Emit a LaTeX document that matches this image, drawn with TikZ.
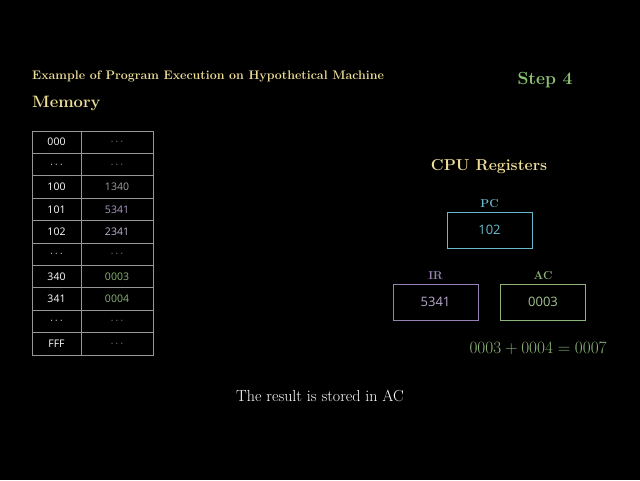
\documentclass[tikz,border=0pt]{standalone}
\usepackage{fontspec}
\setsansfont{Open Sans}
\usetikzlibrary{positioning}
\definecolor{titleyellow}{RGB}{238,222,150}
\definecolor{stepgreen}{RGB}{140,195,115}
\definecolor{pccyan}{RGB}{105,185,205}
\definecolor{irpurple}{RGB}{150,130,180}
\definecolor{acgreen}{RGB}{140,180,120}
\definecolor{cellgray}{RGB}{150,150,150}
\tikzset{
	cell/.style={draw=cellgray, line width=0.9pt, minimum height=22.4pt, inner sep=0pt, font=\sffamily\fontsize{10.5}{11}\selectfont},
	reg/.style={draw, line width=1pt, minimum width=85pt, minimum height=36pt, font=\sffamily\fontsize{13}{14}\selectfont},
	reglabel/.style={font=\bfseries\fontsize{11.5}{12}\selectfont}
}
\begin{document}
\begin{tikzpicture}[x=1pt,y=-1pt]
	\fill[black] (0,0) rectangle (640,480);
	\useasboundingbox (0,0) rectangle (640,480);
	
	\node[anchor=west, text=titleyellow, font=\bfseries\fontsize{12.4}{13}\selectfont, inner sep=0pt] (title) at (32,76) {Example of Program Execution on Hypothetical Machine};
	\node[anchor=west, text=titleyellow, font=\bfseries\fontsize{16.5}{18}\selectfont, inner sep=0pt] (memory) at (32,103) {Memory};
	\node[text=stepgreen, font=\bfseries\fontsize{17.5}{19}\selectfont] (step) at (545,80) {Step 4};
	
	% memory table
	\foreach \i/\addr/\val/\col in {0/000/$\cdots$/cellgray, 1/$\cdots$/$\cdots$/cellgray, 2/100/1340/cellgray!90, 3/101/5341/irpurple!80!white, 4/102/2341/irpurple!60!white, 5/$\cdots$/$\cdots$/cellgray, 6/340/0003/acgreen, 7/341/0004/acgreen, 8/$\cdots$/$\cdots$/cellgray, 9/FFF/$\cdots$/cellgray} {
		\node[cell, minimum width=49pt, text=white] (a\i) at (56.5,142.2+22.4*\i) {\addr};
		\node[cell, minimum width=72pt, text=\col] (v\i) at (117,142.2+22.4*\i) {\val};
	}
	
	% registers
	\node[text=titleyellow, font=\bfseries\fontsize{15.8}{17}\selectfont] (cpu) at (489,167) {CPU Registers};
	\node[reg, draw=pccyan, text=pccyan] (pc) at (489.5,230) {102};
	\node[reglabel, text=pccyan, above=0pt of pc] (pclabel) {PC};
	\node[reg, draw=irpurple, text=irpurple!70!white] (ir) at (435.5,302) {5341};
	\node[reglabel, text=irpurple, above=0pt of ir] (irlabel) {IR};
	\node[reg, draw=acgreen, text=acgreen!80!white] (ac) at (543,302) {0003};
	\node[reglabel, text=acgreen, above=0pt of ac] (aclabel) {AC};
	
	\node[text=acgreen, anchor=east, inner sep=0pt, font=\fontsize{16.5}{18}\selectfont] (sum) at (607,348) {$0003+0004=0007$};
	
	\node[text=white, font=\fontsize{16}{18}\selectfont] (result) at (320,396) {The result is stored in AC};
\end{tikzpicture}
\end{document}
